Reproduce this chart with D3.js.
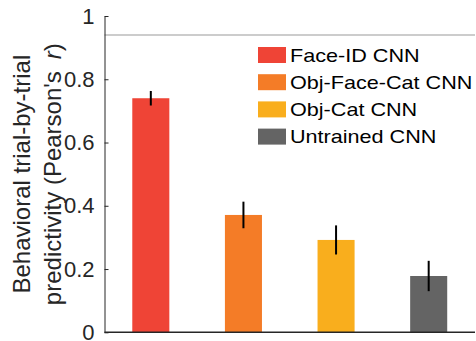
<!DOCTYPE html>
<html>
<head>
<meta charset="utf-8">
<script src="https://cdn.jsdelivr.net/npm/d3@7"></script>
<style>
  body { margin: 0; background: #fff; }
  text { font-family: "Liberation Sans", Arial, Helvetica, sans-serif; }
</style>
</head>
<body>
<div id="chart"></div>
<script>
// data
const models = ['Face-ID CNN', 'Obj-Face-Cat CNN', 'Obj-Cat CNN', 'Untrained CNN'];
const predictivity = [0.74, 0.371, 0.292, 0.178];
const errors = [0.023, 0.042, 0.046, 0.048];
const colors = ['#ef4436', '#f47c27', '#f9ae1d', '#646464'];
const ceiling = 0.94;   // gray reference line
const yTicks = [0, 0.2, 0.4, 0.6, 0.8, 1];

const W = 476, H = 341;
const plotLeft = 104.5, plotRight = 475, plotTop = 16, plotBottom = 332.3;

const svg = d3.select('#chart').append('svg')
    .attr('width', W)
    .attr('height', H);

const x = d3.scaleBand()
    .domain(models)
    .range([plotLeft, plotRight])
    .paddingInner(0.6)
    .paddingOuter(0.3);

const y = d3.scaleLinear()
    .domain([0, 1])
    .range([plotBottom, plotTop]);

// ceiling line
svg.append('line')
    .attr('x1', plotLeft).attr('x2', plotRight)
    .attr('y1', y(ceiling)).attr('y2', y(ceiling))
    .attr('stroke', '#cccccc')
    .attr('stroke-width', 2);

// bars
svg.selectAll('rect.bar')
    .data(models)
    .join('rect')
    .attr('class', 'bar')
    .attr('x', d => x(d))
    .attr('width', x.bandwidth())
    .attr('y', (d, i) => y(predictivity[i]))
    .attr('height', (d, i) => y(0) - y(predictivity[i]))
    .attr('fill', (d, i) => colors[i]);

// error bars
svg.selectAll('line.err')
    .data(models)
    .join('line')
    .attr('class', 'err')
    .attr('x1', d => x(d) + x.bandwidth() / 2)
    .attr('x2', d => x(d) + x.bandwidth() / 2)
    .attr('y1', (d, i) => y(predictivity[i] + errors[i]))
    .attr('y2', (d, i) => y(predictivity[i] - errors[i]))
    .attr('stroke', '#000')
    .attr('stroke-width', 2);

// y axis (ticks pointing inward)
const yAxis = svg.append('g')
    .attr('transform', `translate(${plotLeft},0)`)
    .call(d3.axisLeft(y).tickValues(yTicks).tickFormat(d3.format('~g')).tickSizeInner(-4).tickSizeOuter(0).tickPadding(10));
yAxis.select('.domain').attr('stroke', '#262626');
yAxis.selectAll('.tick line').attr('stroke', '#262626');
yAxis.selectAll('.tick text')
    .attr('font-size', 22)
    .attr('fill', '#262626')
    .attr('font-family', '"Liberation Sans", Arial, sans-serif');

// x axis baseline
svg.append('line')
    .attr('x1', plotLeft).attr('x2', plotRight)
    .attr('y1', plotBottom).attr('y2', plotBottom)
    .attr('stroke', '#262626')
    .attr('stroke-width', 1.5);

// y label
const yl = svg.append('g')
    .attr('transform', `translate(0,${(plotTop + plotBottom) / 2}) rotate(-90)`);
yl.append('text')
    .attr('x', 0).attr('y', 30)
    .attr('text-anchor', 'middle')
    .attr('font-size', 24)
    .attr('fill', '#262626')
    .text('Behavioral trial-by-trial');
const l2 = yl.append('text')
    .attr('x', 0).attr('y', 61)
    .attr('text-anchor', 'middle')
    .attr('font-size', 24)
    .attr('fill', '#262626');
l2.append('tspan').text("predictivity (Pearson's\u2002");
l2.append('tspan').attr('font-style', 'italic').text('r');
l2.append('tspan').text(')');

// legend
const legend = svg.append('g')
    .attr('transform', 'translate(258,47)');
const rows = legend.selectAll('g')
    .data(models)
    .join('g')
    .attr('transform', (d, i) => `translate(0,${i * 27.2})`);
rows.append('rect')
    .attr('width', 28)
    .attr('height', 16)
    .attr('fill', (d, i) => colors[i]);
rows.append('text')
    .attr('transform', 'translate(32,14.5) scale(1.2,1)')
    .attr('font-size', 18)
    .attr('fill', '#000')
    .text(d => d);
</script>
</body>
</html>
